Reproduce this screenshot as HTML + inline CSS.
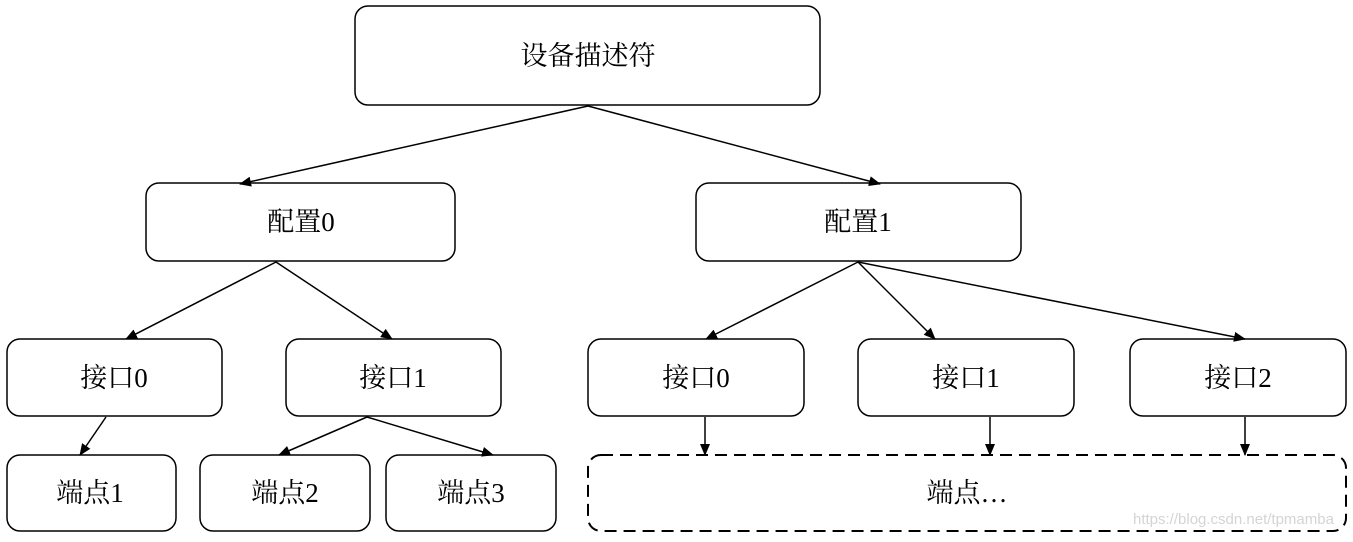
<!DOCTYPE html>
<html><head><meta charset="utf-8"><style>
html,body{margin:0;padding:0;background:#fff;}
svg text{font-family:"Liberation Serif","Noto Serif CJK SC",serif;font-size:27px;fill:#000;}
</style></head><body>
<svg width="1353" height="537" viewBox="0 0 1353 537" xmlns="http://www.w3.org/2000/svg">
<defs><marker id="a" markerWidth="12" markerHeight="10" refX="11" refY="5" orient="auto" markerUnits="userSpaceOnUse"><path d="M0,0 L12,5 L0,10 z" fill="#000"/></marker></defs>
<g fill="#fff" stroke="#000" stroke-width="1.5">
<rect x="355" y="6" width="465" height="99" rx="13"/>
<rect x="146" y="183" width="309" height="78" rx="13"/>
<rect x="696" y="183" width="325" height="78" rx="13"/>
<rect x="7" y="339" width="215" height="77" rx="13"/>
<rect x="286" y="339" width="215" height="77" rx="13"/>
<rect x="588" y="339" width="216" height="77" rx="13"/>
<rect x="858" y="339" width="216" height="77" rx="13"/>
<rect x="1130" y="339" width="216" height="77" rx="13"/>
<rect x="7" y="455" width="169" height="76" rx="13"/>
<rect x="200" y="455" width="170" height="76" rx="13"/>
<rect x="386" y="455" width="170" height="76" rx="13"/>
<rect x="588" y="455" width="758" height="76" rx="13" stroke-dasharray="12,7" stroke-width="2"/>
</g>
<g stroke="#000" stroke-width="1.5" marker-end="url(#a)">
<line x1="588" y1="106" x2="240" y2="184"/>
<line x1="588" y1="106" x2="880" y2="184"/>
<line x1="276" y1="262" x2="126" y2="339"/>
<line x1="276" y1="262" x2="392" y2="339"/>
<line x1="858" y1="262" x2="706" y2="339"/>
<line x1="858" y1="262" x2="935" y2="339"/>
<line x1="858" y1="262" x2="1245" y2="339"/>
<line x1="106" y1="417" x2="80" y2="455"/>
<line x1="367" y1="417" x2="279" y2="455"/>
<line x1="367" y1="417" x2="493" y2="455"/>
<line x1="705" y1="417" x2="705" y2="455"/>
<line x1="990" y1="417" x2="990" y2="455"/>
<line x1="1245" y1="417" x2="1245" y2="455"/>
</g>
<g text-anchor="middle">
<text x="588" y="65">设备描述符</text>
<text x="301" y="231">配置0</text>
<text x="858" y="231">配置1</text>
<text x="114" y="387">接口0</text>
<text x="393" y="387">接口1</text>
<text x="696" y="387">接口0</text>
<text x="966" y="387">接口1</text>
<text x="1238" y="387">接口2</text>
<text x="90" y="502">端点1</text>
<text x="285" y="502">端点2</text>
<text x="471" y="502">端点3</text>
<text x="967" y="502">端点…</text>
</g>
<text x="1133" y="524" style="font-family:'Liberation Sans',sans-serif;font-size:15px;fill:#d4d4d4">https://blog.csdn.net/tpmamba</text>
</svg>
</body></html>
